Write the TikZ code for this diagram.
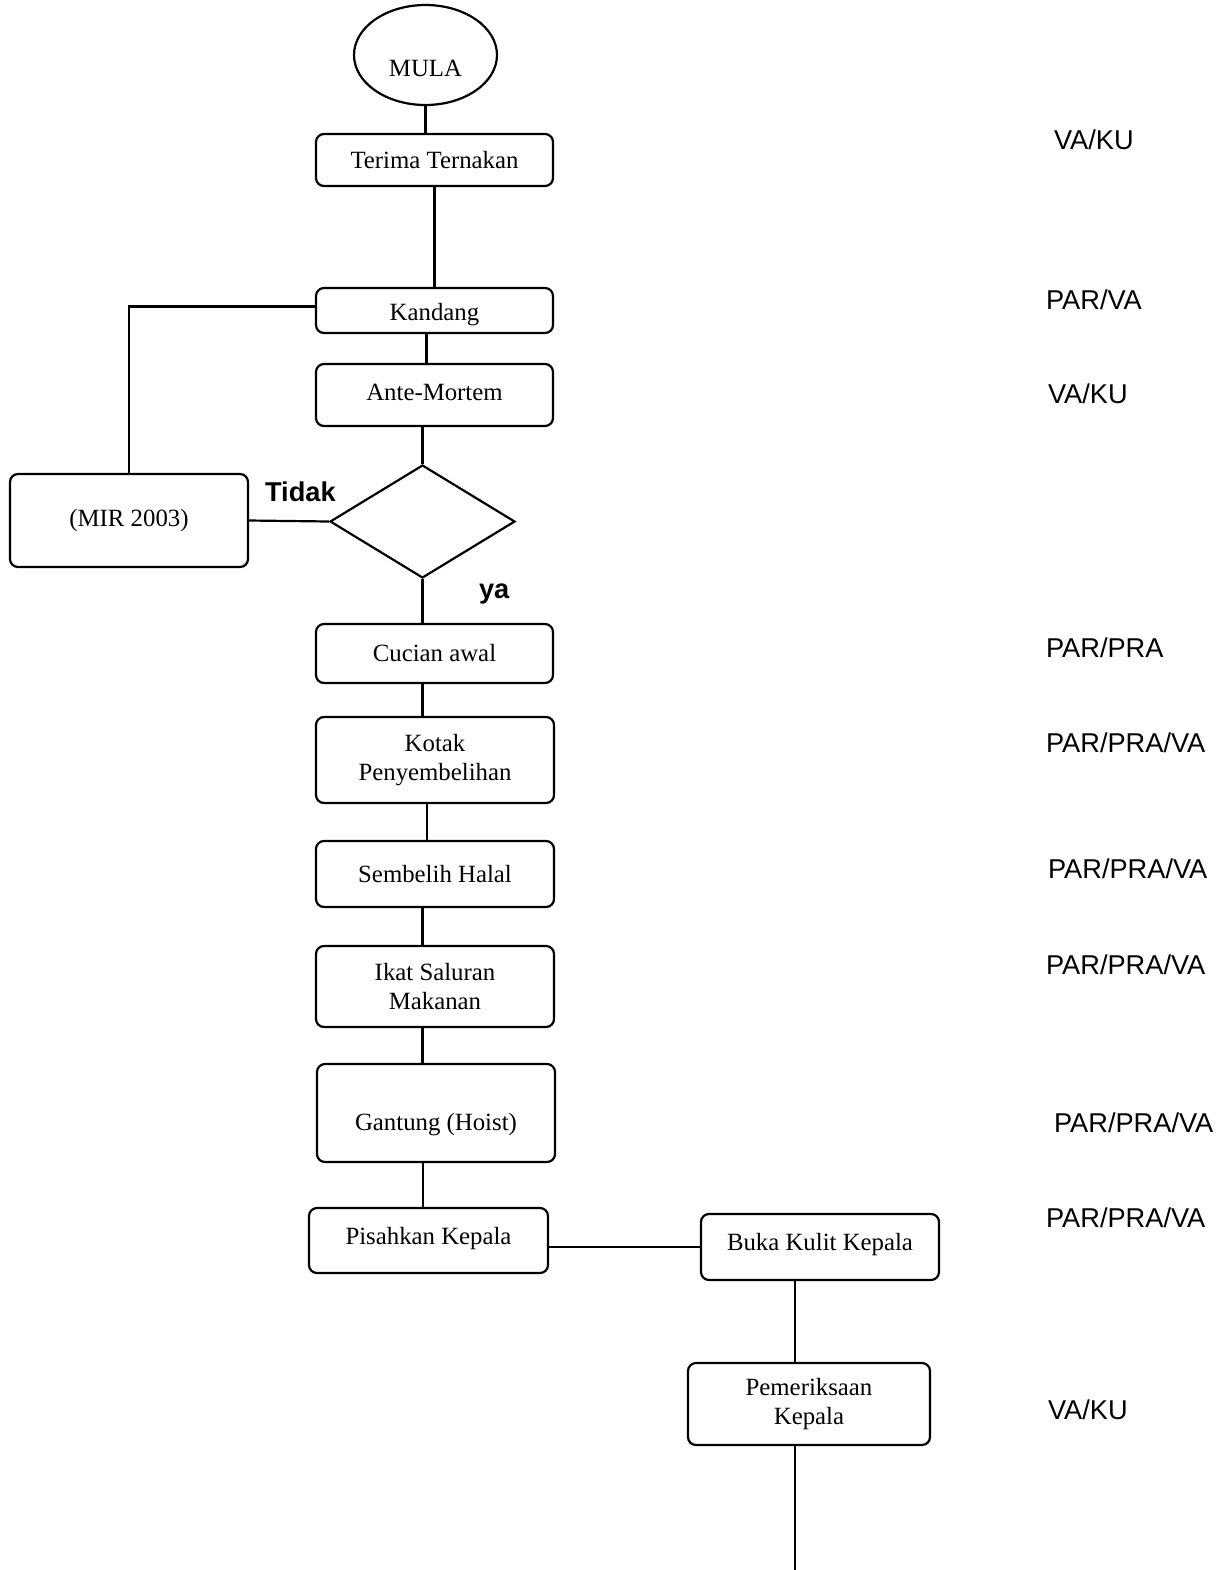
\documentclass[tikz,border=0pt]{standalone}
\usepackage{fontspec}
\setmainfont{Liberation Serif}
\newfontfamily\labelfont{Liberation Sans}
\usetikzlibrary{shapes.geometric,calc}
\begin{document}
\begin{tikzpicture}[x=0.5pt,y=-0.5pt, line width=1.1pt,
  box/.style={draw, rounded corners=4pt, align=center, inner sep=0pt,
    font=\fontsize{12.4}{14.6}\selectfont},
  bx/.style 2 args={box, minimum width=#1*0.5pt, minimum height=#2*0.5pt},
  txt/.style={font=\fontsize{12.4}{14.6}\selectfont},
  side/.style={anchor=west, inner sep=0pt, font=\labelfont\fontsize{13.6}{16}\selectfont},
  yn/.style={anchor=west, inner sep=0pt, font=\labelfont\bfseries\fontsize{13.6}{16}\selectfont}]
\useasboundingbox (0,0) rectangle (1228,1570);

% nodes
\node[draw, ellipse, minimum width=71.5pt, minimum height=50pt, inner sep=0pt,
  label={[txt, yshift=-6.5pt]center:MULA}] (mula) at (425.5,55) {};
\node[bx={237}{52}] (terima) at (434.5,160) {Terima Ternakan};
\node[bx={237}{45}, label={[txt, yshift=-2pt]center:Kandang}] (kandang) at (434.5,310.5) {};
\node[bx={237}{62}, label={[txt, yshift=1.5pt]center:Ante-Mortem}] (ante) at (434.5,395) {};
\node[draw, diamond, minimum width=92.5pt, minimum height=56.5pt, inner sep=0pt] (dec) at (422.5,521.5) {};
\node[bx={238}{93}] (mir) at (129,520.5) {(MIR 2003)};
\node[bx={237}{59}] (cucian) at (434.5,653.5) {Cucian awal};
\node[bx={238}{86}] (kotak) at (435,760) {Kotak\\Penyembelihan};
\node[bx={238}{66}] (sembelih) at (435,874) {Sembelih Halal};
\node[bx={238}{81}] (ikat) at (435,986.5) {Ikat Saluran\\Makanan};
\node[bx={238}{98}, label={[txt, yshift=-6pt]center:Gantung (Hoist)}] (gantung) at (436,1113) {};
\node[bx={239}{65}, label={[txt, yshift=1pt]center:Pisahkan Kepala}] (pisahkan) at (428.5,1240.5) {};
\node[bx={238}{66}, label={[txt, yshift=1pt]center:Buka Kulit Kepala}] (buka) at (820,1247) {};
\node[bx={242}{82}] (pem) at (809,1404) {Pemeriksaan\\Kepala};
\coordinate (end) at (795,1570);

\node[yn] (tidak) at (264,492) {Tidak};
\node[yn] (ya) at (478,594) {ya};

% right labels
\node[side] (r1) at (1053,140) {VA/KU};
\node[side] (r2) at (1045,300) {PAR/VA};
\node[side] (r3) at (1047,394) {VA/KU};
\node[side] (r4) at (1045,648) {PAR/PRA};
\node[side] (r5) at (1045,743) {PAR/PRA/VA};
\node[side] (r6) at (1047,869) {PAR/PRA/VA};
\node[side] (r7) at (1045,965) {PAR/PRA/VA};
\node[side] (r8) at (1053,1123) {PAR/PRA/VA};
\node[side] (r9) at (1045,1218) {PAR/PRA/VA};
\node[side] (r10) at (1047,1410) {VA/KU};

% connectors
\draw (mula.south) -- (mula.south |- terima.north);
\draw (terima.south) -- (kandang.north);
\draw ([xshift=-4pt]kandang.south) -- ([xshift=-4pt]ante.north);
\draw (ante.south -| dec.north) -- (dec.north);
\draw ([yshift=2pt]kandang.west) -| (mir.north);
\draw (mir.east) -- (dec.west);
\draw (dec.south) -- (dec.south |- cucian.north);
\draw (cucian.south -| dec.south) -- (dec.south |- kotak.north);
\draw ([xshift=-4pt]kotak.south) -- ([xshift=-4pt]sembelih.north);
\draw (sembelih.south -| dec.south) -- (dec.south |- ikat.north);
\draw (ikat.south -| dec.south) -- (dec.south |- gantung.north);
\draw ([xshift=-6.5pt]gantung.south) -- ([xshift=-6.5pt]gantung.south |- pisahkan.north);
\draw (buka.west -| pisahkan.east) -- (buka.west);
\draw (buka.south -| end) -- (pem.north -| end);
\draw (pem.south -| end) -- (end);
\end{tikzpicture}
\end{document}
